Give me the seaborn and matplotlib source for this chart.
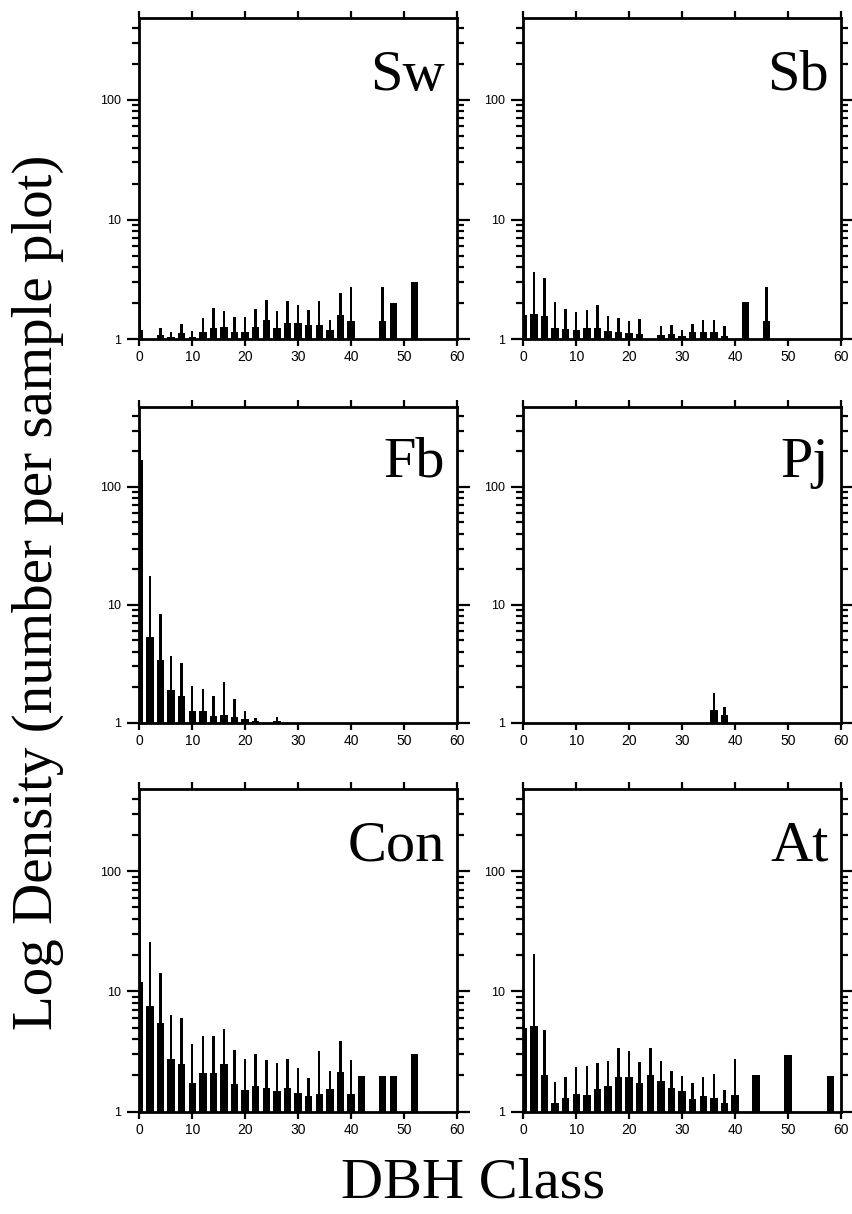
import numpy as np
import pandas as pd
import matplotlib
matplotlib.use('Agg')
import matplotlib.pyplot as plt
import matplotlib.ticker as mticker
import seaborn as sns

sns.set_style('white')
plt.rcParams['font.family'] = ['Liberation Sans', 'DejaVu Sans']
plt.rcParams['text.color'] = 'black'
plt.rcParams['xtick.color'] = 'black'
plt.rcParams['ytick.color'] = 'black'

# DBH class, maximum and mean density for each species group
sw_dbh = [0, 4, 6, 8, 10, 12, 14, 16, 18, 20, 22, 24, 26, 28, 30, 32, 34, 36, 38, 40, 46, 48, 52]
sw_max = [3.9, 1.24, 1.16, 1.35, 1.18, 1.52, 1.82, 1.74, 1.55, 1.55, 1.79, 2.11, 1.74, 2.1, 1.94, 1.77, 2.07, 1.45, 2.44, 2.73, 2.76, 2.0, 3.0]
sw_mean = [1.2, 1.08, 1.05, 1.12, 1.05, 1.16, 1.24, 1.26, 1.16, 1.14, 1.26, 1.45, 1.24, 1.36, 1.38, 1.32, 1.32, 1.2, 1.6, 1.41, 1.41, 2.0, 3.0]

sb_dbh = [0, 2, 4, 6, 8, 10, 12, 14, 16, 18, 20, 22, 26, 28, 30, 32, 34, 36, 38, 42, 46]
sb_max = [2.9, 3.63, 3.23, 2.03, 1.79, 1.7, 1.77, 1.93, 1.57, 1.5, 1.43, 1.47, 1.28, 1.31, 1.2, 1.34, 1.44, 1.44, 1.3, 2.03, 2.74]
sb_mean = [1.6, 1.64, 1.57, 1.25, 1.21, 1.19, 1.25, 1.25, 1.17, 1.14, 1.12, 1.1, 1.09, 1.1, 1.07, 1.14, 1.14, 1.14, 1.07, 2.03, 1.41]

fb_dbh = [0, 2, 4, 6, 8, 10, 12, 14, 16, 18, 20, 22, 26]
fb_max = [300, 17.6, 8.4, 3.67, 3.18, 2.05, 1.92, 1.69, 2.22, 1.58, 1.26, 1.09, 1.12]
fb_mean = [170, 5.35, 3.4, 1.89, 1.68, 1.24, 1.24, 1.14, 1.16, 1.12, 1.07, 1.03, 1.03]

pj_dbh = [36, 38]
pj_max = [1.79, 1.36]
pj_mean = [1.28, 1.16]

con_dbh = [0, 2, 4, 6, 8, 10, 12, 14, 16, 18, 20, 22, 24, 26, 28, 30, 32, 34, 36, 38, 40, 42, 46, 48, 52]
con_max = [190, 25.5, 14.2, 6.4, 5.96, 3.63, 4.24, 4.24, 4.9, 3.27, 2.75, 3.03, 2.67, 2.55, 2.72, 2.31, 1.9, 3.19, 2.17, 3.85, 2.7, 1.97, 1.97, 1.97, 3.0]
con_mean = [12, 7.6, 5.5, 2.75, 2.5, 1.72, 2.09, 2.09, 2.47, 1.7, 1.51, 1.64, 1.57, 1.49, 1.57, 1.42, 1.35, 1.4, 1.54, 2.13, 1.4, 1.97, 1.97, 1.97, 3.0]

at_dbh = [0, 2, 4, 6, 8, 10, 12, 14, 16, 18, 20, 22, 24, 26, 28, 30, 32, 34, 36, 38, 40, 44, 50, 58]
at_max = [6.5, 20.6, 4.77, 1.76, 1.94, 2.36, 2.39, 2.52, 2.63, 3.4, 3.19, 2.6, 3.4, 2.63, 2.17, 1.97, 1.73, 1.94, 2.06, 1.5, 2.72, 2.0, 2.94, 1.97]
at_mean = [5.0, 5.1, 2.0, 1.17, 1.29, 1.4, 1.38, 1.54, 1.62, 1.94, 1.94, 1.73, 2.0, 1.79, 1.57, 1.47, 1.28, 1.35, 1.29, 1.17, 1.36, 2.0, 2.94, 1.97]

panels = [
    ('Sw', sw_dbh, sw_max, sw_mean),
    ('Sb', sb_dbh, sb_max, sb_mean),
    ('Fb', fb_dbh, fb_max, fb_mean),
    ('Pj', pj_dbh, pj_max, pj_mean),
    ('Con', con_dbh, con_max, con_mean),
    ('At', at_dbh, at_max, at_mean),
]

W, H = 852, 1214
fig = plt.figure(figsize=(W / 100, H / 100), dpi=100)

col_left = [139.3, 523.3]
col_width = 317.5
rows = [(18.3, 339.3), (406.7, 722.5), (789.3, 1111.5)]

serif = ['Liberation Serif', 'DejaVu Serif']

for i, (name, dbh, vmax, vmean) in enumerate(panels):
    r, c = divmod(i, 2)
    top, bot = rows[r]
    ax = fig.add_axes([col_left[c] / W, 1 - bot / H, col_width / W, (bot - top) / H])

    df = pd.DataFrame({'dbh': dbh, 'max': vmax, 'mean': vmean})
    # thin bar = maximum, wide bar = mean
    sns.barplot(data=df, x='dbh', y='max', native_scale=True, width=0.24,
                color='black', saturation=1, linewidth=0, ax=ax)
    sns.barplot(data=df, x='dbh', y='mean', native_scale=True, width=0.7,
                color='black', saturation=1, linewidth=0, ax=ax)

    ax.set_yscale('log')
    ax.set_ylim(1, 480)
    ax.set_xlim(0, 60)
    ax.set_xlabel('')
    ax.set_ylabel('')

    ax.set_xticks(range(0, 61, 10))
    ax.yaxis.set_major_locator(mticker.FixedLocator([1, 10, 100]))
    ax.yaxis.set_major_formatter(mticker.FixedFormatter(['1', '10', '100']))
    ax.yaxis.set_minor_locator(mticker.LogLocator(base=10, subs=np.arange(2, 10), numticks=20))
    ax.yaxis.set_minor_formatter(mticker.NullFormatter())

    ax.tick_params(axis='both', which='both', direction='out', top=True, right=True,
                   bottom=True, left=True, color='black', width=1.6, labelcolor='black')
    ax.tick_params(axis='x', which='major', length=5, pad=3, labelsize=10)
    ax.tick_params(axis='y', which='major', length=9, pad=4, labelsize=9)
    ax.tick_params(axis='y', which='minor', length=5)
    ax.tick_params(axis='x', which='minor', bottom=False, top=False)

    for s in ax.spines.values():
        s.set_visible(True)
        s.set_color('black')
        s.set_linewidth(2)

    ax.text(0.962, 0.778, name, transform=ax.transAxes, ha='right', va='baseline',
            fontsize=42, family=serif, color='black')

fig.text(38 / W, 1 - 592 / H, 'Log Density (number per sample plot)', rotation=90,
         ha='center', va='center', fontsize=41, family=serif, color='black')
fig.text(473 / W, 1 - 1183 / H, 'DBH Class', ha='center', va='center',
         fontsize=42, family=serif, color='black')

fig.savefig('out.png', dpi=100)
